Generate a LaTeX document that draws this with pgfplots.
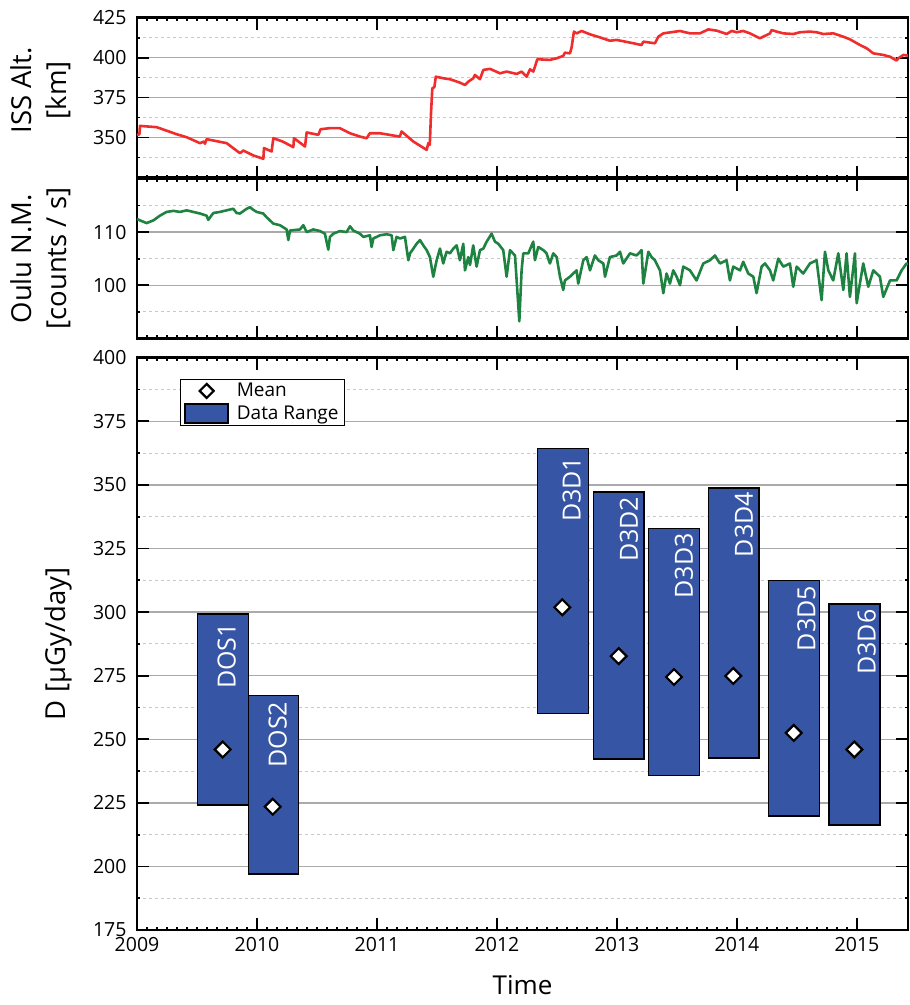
\documentclass[border=0pt]{standalone}
\usepackage{fontspec}
\setmainfont{Open Sans}
\usepackage{pgfplots}
\pgfplotsset{compat=1.18}
\definecolor{issred}{RGB}{240,45,45}
\definecolor{oulugreen}{RGB}{30,130,65}
\definecolor{barblue}{RGB}{55,85,165}
\definecolor{majgrid}{RGB}{170,170,170}
\definecolor{mingrid}{RGB}{200,200,200}
\definecolor{tickcol}{RGB}{0,0,0}

\pgfplotsset{
  myaxis/.style={
    scale only axis, width=771pt,
    xmin=2009, xmax=2015.425,
    xtick={2009,2010,2011,2012,2013,2014,2015}, minor x tick num=11,
    axis line style={line width=2.6pt},
    ymajorgrids, yminorgrids,
    major grid style={majgrid, line width=1.3pt},
    minor grid style={mingrid, line width=1pt, dash pattern=on 3pt off 3pt},
    tick label style={font=\fontsize{19.5}{23}\selectfont},
    yticklabel style={xshift=-7pt},
    /pgf/number format/1000 sep={},
    /pgf/number format/assume math mode=true,
  }
}

\begin{document}
\begin{tikzpicture}
\useasboundingbox (0pt,0pt) rectangle (910pt,-1005pt);

% ---------------- ISS altitude ----------------
\begin{axis}[myaxis,
  at={(137pt,-177.5pt)}, anchor=south west,
  height=159.8pt,
  ymin=325, ymax=425,
  ytick={350,375,400,425}, minor ytick={337.5,362.5,387.5,412.5},
  xticklabels={},
  every tick/.style={tickcol, line width=1.7pt},
  major tick length=12pt,
  ylabel={ISS Alt.\\{[km]}},
  ylabel style={at={(axis description cs:-0.125,0.545)}, anchor=center, align=center,
    font=\fontsize{27.5}{35}\selectfont},
]
\addplot[issred, line width=2.6pt, line join=round] coordinates {
(2009.000,351.7) (2009.020,352.0) (2009.025,357.3) (2009.164,356.5) (2009.330,352.1)
(2009.414,350.2) (2009.525,346.5) (2009.558,347.5) (2009.566,346.1) (2009.580,349.0)
(2009.680,347.5) (2009.747,346.5) (2009.858,340.2) (2009.886,341.9) (2009.969,338.8)
(2010.053,336.7) (2010.058,343.4) (2010.122,341.3) (2010.136,349.6) (2010.214,347.5)
(2010.303,344.0) (2010.308,349.6) (2010.400,344.4) (2010.414,353.2) (2010.511,351.7)
(2010.530,355.2) (2010.608,355.9) (2010.690,355.9) (2010.775,352.7) (2010.858,350.6)
(2010.914,349.6) (2010.940,352.7) (2011.025,352.7) (2011.190,350.6) (2011.205,353.8)
(2011.303,347.5) (2011.414,342.3) (2011.428,346.5) (2011.440,345.4) (2011.450,365.2)
(2011.461,380.9) (2011.478,381.5) (2011.490,388.1) (2011.553,387.1) (2011.608,386.5)
(2011.690,384.4) (2011.733,382.9) (2011.761,385.0) (2011.802,387.1) (2011.816,389.2)
(2011.858,386.5) (2011.886,392.3) (2011.941,393.0) (2012.025,390.2) (2012.080,391.3)
(2012.164,389.8) (2012.205,391.3) (2012.247,388.1) (2012.275,392.7) (2012.303,391.3)
(2012.336,399.0) (2012.441,398.6) (2012.497,399.6) (2012.552,401.1) (2012.566,403.1)
(2012.608,402.7) (2012.622,406.5) (2012.641,416.3) (2012.664,415.2) (2012.705,416.7)
(2012.775,414.6) (2012.858,412.7) (2012.941,410.6) (2012.997,411.1) (2013.136,409.0)
(2013.205,407.9) (2013.219,410.0) (2013.316,409.0) (2013.344,413.1) (2013.386,415.2)
(2013.525,416.7) (2013.608,415.2) (2013.691,415.2) (2013.761,417.7) (2013.830,416.9)
(2013.914,414.8) (2013.955,416.7) (2013.997,415.9) (2014.052,416.7) (2014.108,415.2)
(2014.191,412.1) (2014.275,415.2) (2014.288,417.3) (2014.330,416.3) (2014.386,415.2)
(2014.469,414.8) (2014.525,415.9) (2014.608,416.3) (2014.663,415.9) (2014.719,414.8)
(2014.802,415.2) (2014.886,413.1) (2014.941,411.5) (2015.025,407.9) (2015.080,405.9)
(2015.136,402.7) (2015.219,401.7) (2015.275,400.6) (2015.330,398.2) (2015.344,399.6)
(2015.386,401.7) (2015.441,401.1)
};
\end{axis}

% ---------------- Oulu neutron monitor ----------------
\begin{axis}[myaxis,
  at={(137pt,-338.3pt)}, anchor=south west,
  height=159.3pt,
  ymin=90, ymax=120,
  ytick={100,110}, minor ytick={95,105,115},
  xticklabels={},
  every tick/.style={tickcol, line width=1.7pt},
  major tick length=12pt,
  ylabel={Oulu N.M.\\{[counts / s]}},
  ylabel style={at={(axis description cs:-0.125,0.5)}, anchor=center, align=center,
    font=\fontsize{27.5}{35}\selectfont},
]
\addplot[oulugreen, line width=2.6pt, line join=round] coordinates {
(2009.000,112.5) (2009.025,112.2) (2009.080,111.7) (2009.136,112.2) (2009.191,113.1)
(2009.247,113.8) (2009.303,114.0) (2009.358,113.8) (2009.414,114.1) (2009.469,113.8)
(2009.525,113.5) (2009.580,113.1) (2009.594,112.3) (2009.636,113.6) (2009.691,113.8)
(2009.747,114.1) (2009.802,114.4) (2009.830,113.6) (2009.858,113.5) (2009.914,114.4)
(2009.941,114.7) (2009.969,114.2) (2009.997,113.8) (2010.052,113.5) (2010.080,112.8)
(2010.136,111.6) (2010.191,111.3) (2010.247,110.5) (2010.261,108.5) (2010.275,110.3)
(2010.358,110.5) (2010.386,111.3) (2010.414,110.0) (2010.469,110.5) (2010.525,110.2)
(2010.566,109.7) (2010.594,106.7) (2010.608,109.1) (2010.636,109.7) (2010.691,110.2)
(2010.747,110.0) (2010.775,111.1) (2010.802,110.3) (2010.858,109.7) (2010.886,109.1)
(2010.941,109.4) (2010.955,107.2) (2010.969,108.8) (2011.025,109.4) (2011.080,109.6)
(2011.122,109.4) (2011.136,106.6) (2011.163,109.1) (2011.191,108.8) (2011.233,109.1)
(2011.261,104.7) (2011.275,106.0) (2011.303,106.9) (2011.330,107.8) (2011.358,108.5)
(2011.386,107.5) (2011.414,106.6) (2011.441,105.3) (2011.469,101.6) (2011.497,104.7)
(2011.525,106.9) (2011.552,104.1) (2011.580,106.3) (2011.608,106.0) (2011.636,106.9)
(2011.664,107.5) (2011.691,104.7) (2011.719,107.8) (2011.733,102.8) (2011.761,105.3)
(2011.775,103.8) (2011.802,107.5) (2011.830,103.5) (2011.858,106.6) (2011.886,106.9)
(2011.914,108.2) (2011.955,109.7) (2011.983,108.2) (2012.011,107.8) (2012.052,106.6)
(2012.080,101.6) (2012.108,106.6) (2012.150,105.6) (2012.186,93.2) (2012.205,102.8)
(2012.219,106.0) (2012.261,106.0) (2012.302,108.2) (2012.316,104.7) (2012.344,107.2)
(2012.386,106.6) (2012.413,106.0) (2012.441,104.1) (2012.469,106.0) (2012.497,105.3)
(2012.525,101.6) (2012.552,99.1) (2012.566,100.9) (2012.608,101.6) (2012.663,102.8)
(2012.677,100.3) (2012.719,104.7) (2012.747,105.3) (2012.775,102.8) (2012.816,105.6)
(2012.844,104.7) (2012.886,104.1) (2012.900,101.6) (2012.941,105.3) (2012.997,105.6)
(2013.025,106.3) (2013.052,104.1) (2013.108,106.0) (2013.163,105.6) (2013.205,106.6)
(2013.219,100.3) (2013.261,106.3) (2013.288,105.3) (2013.316,104.7) (2013.358,102.8)
(2013.386,98.5) (2013.413,102.2) (2013.441,100.3) (2013.469,102.8) (2013.497,101.6)
(2013.525,100.0) (2013.552,103.5) (2013.608,102.8) (2013.663,100.9) (2013.719,104.1)
(2013.775,104.7) (2013.816,105.6) (2013.858,104.1) (2013.913,104.7) (2013.941,100.9)
(2013.969,103.5) (2014.025,102.8) (2014.052,104.4) (2014.094,102.2) (2014.136,101.6)
(2014.163,98.5) (2014.205,103.5) (2014.233,104.1) (2014.275,102.8) (2014.302,100.9)
(2014.344,105.0) (2014.386,103.5) (2014.441,104.1) (2014.469,99.7) (2014.497,103.5)
(2014.552,102.2) (2014.608,104.1) (2014.663,104.7) (2014.705,97.2) (2014.733,106.3)
(2014.761,102.8) (2014.802,100.9) (2014.844,106.0) (2014.886,99.1) (2014.913,106.0)
(2014.941,97.8) (2014.983,106.0) (2014.997,96.6) (2015.052,104.1) (2015.094,99.7)
(2015.136,102.8) (2015.191,101.6) (2015.219,97.8) (2015.275,100.9) (2015.330,100.9)
(2015.372,102.8) (2015.413,104.1) (2015.441,103.8)
};
\end{axis}

% ---------------- Dose ----------------
\begin{axis}[myaxis,
  at={(137pt,-930.1pt)}, anchor=south west,
  height=572.4pt,
  ymin=175, ymax=400,
  ytick={175,200,225,250,275,300,325,350,375,400},
  minor ytick={187.5,212.5,237.5,262.5,287.5,312.5,337.5,362.5,387.5},
  every tick/.style={tickcol, line width=1.7pt},
  major tick length=12pt,
  xlabel={Time},
  xlabel style={at={(axis description cs:0.5,-0.079)}, anchor=north, inner sep=0pt,
    font=\fontsize{26}{30}\selectfont},
  xticklabel style={yshift=-4pt},
  ylabel={D [µGy/day]},
  ylabel style={at={(axis description cs:-0.1025,0.5)}, anchor=center,
    font=\fontsize{27.5}{35}\selectfont},
  legend style={at={(axis description cs:0.0557,0.963)}, anchor=north west,
    draw=black, line width=1pt, fill=white,
    font=\fontsize{19}{22}\selectfont,
    inner xsep=4pt, inner ysep=2pt, row sep=3pt, cells={anchor=west},
    /tikz/every odd column/.append style={column sep=6pt}},
]
\addlegendimage{legend image code/.code={
  \path (0pt,0pt) (43pt,0pt);
  \draw[fill=white, draw=black, line width=2.2pt, line join=miter]
    (21.5pt,7pt) -- (28.5pt,0pt) -- (21.5pt,-7pt) -- (14.5pt,0pt) -- cycle;}}
\addlegendentry{Mean}
\addlegendimage{legend image code/.code={
  \draw[fill=barblue, draw=black, line width=1.4pt] (0pt,-9.5pt) rectangle (43pt,9.5pt);}}
\addlegendentry{Data Range}

\pgfplotsset{every axis plot/.append style={forget plot}}
\addplot[fill=barblue, draw=black, line width=1.5pt] coordinates
  {(2009.503,224.2) (2009.928,224.2) (2009.928,299.3) (2009.503,299.3)} -- cycle;
\addplot[fill=barblue, draw=black, line width=1.5pt] coordinates
  {(2009.928,197.1) (2010.344,197.1) (2010.344,267.2) (2009.928,267.2)} -- cycle;
\addplot[fill=barblue, draw=black, line width=1.5pt] coordinates
  {(2012.336,260.1) (2012.761,260.1) (2012.761,364.4) (2012.336,364.4)} -- cycle;
\addplot[fill=barblue, draw=black, line width=1.5pt] coordinates
  {(2012.803,242.2) (2013.225,242.2) (2013.225,347.3) (2012.803,347.3)} -- cycle;
\addplot[fill=barblue, draw=black, line width=1.5pt] coordinates
  {(2013.264,235.7) (2013.686,235.7) (2013.686,332.9) (2013.264,332.9)} -- cycle;
\addplot[fill=barblue, draw=black, line width=1.5pt] coordinates
  {(2013.761,242.7) (2014.183,242.7) (2014.183,348.7) (2013.761,348.7)} -- cycle;
\addplot[fill=barblue, draw=black, line width=1.5pt] coordinates
  {(2014.264,219.9) (2014.686,219.9) (2014.686,312.4) (2014.264,312.4)} -- cycle;
\addplot[fill=barblue, draw=black, line width=1.5pt] coordinates
  {(2014.767,216.3) (2015.192,216.3) (2015.192,303.1) (2014.767,303.1)} -- cycle;

\addplot[only marks, mark=square*, mark size=5.6pt,
  mark options={rotate=45, fill=white, draw=black, line width=2.2pt}] coordinates {
(2009.714,246.0) (2010.131,223.5) (2012.544,301.9) (2013.014,282.7)
(2013.475,274.5) (2013.969,274.9) (2014.473,252.5) (2014.978,246.0)
};

\begin{scope}[every node/.style={rotate=90, anchor=east, inner sep=0pt, text=white,
    font=\fontsize{25}{30}\selectfont}]
\node at (axis cs:2009.747,295.7) {DOS1};
\node at (axis cs:2010.173,264.8) {DOS2};
\node at (axis cs:2012.623,361.1) {D3D1};
\node at (axis cs:2013.100,345.4) {D3D2};
\node at (axis cs:2013.558,331.0) {D3D3};
\node at (axis cs:2014.058,347.3) {D3D4};
\node at (axis cs:2014.578,310.3) {D3D5};
\node at (axis cs:2015.081,301.1) {D3D6};
\end{scope}
\end{axis}
\end{tikzpicture}
\end{document}
